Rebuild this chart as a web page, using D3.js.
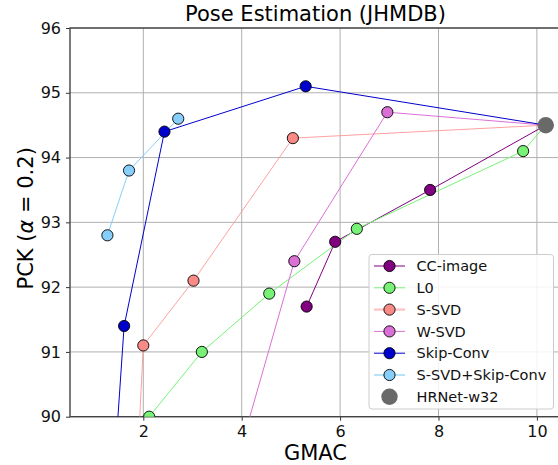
<!DOCTYPE html>
<html>
<head>
<meta charset="utf-8">
<script src="https://cdn.jsdelivr.net/npm/d3@7/dist/d3.min.js"></script>
<style>
  html, body { margin: 0; padding: 0; background: #fff; }
  svg { display: block; font-family: "DejaVu Sans", sans-serif; }
</style>
</head>
<body>
<svg id="chart" width="558" height="465"></svg>
<script>
// ---- data ----
const seriesNames = ["CC-image", "L0", "S-SVD", "W-SVD", "Skip-Conv", "S-SVD+Skip-Conv"];
const ccX = [5.32, 5.90, 7.83];
const ccY = [91.7, 92.7, 93.5];
const l0X = [2.12, 3.19, 4.56, 6.34, 9.72];
const l0Y = [90.0, 91.0, 91.9, 92.9, 94.1];
const ssvdX = [1.85, 2.00, 3.02, 5.04];
const ssvdY = [88.8, 91.1, 92.1, 94.3];
const wsvdX = [3.60, 5.07, 6.96];
const wsvdY = [88.5, 92.4, 94.7];
const skipX = [1.35, 1.61, 2.43, 5.30];
const skipY = [88.5, 91.4, 94.4, 95.1];
const comboX = [1.27, 1.71, 2.71];
const comboY = [92.8, 93.8, 94.6];
const connectsToBase = [true, true, true, true, true, false];
const baseName = "HRNet-w32";
const baseX = 10.18;
const baseY = 94.5;
const xTicks = [2, 4, 6, 8, 10];
const yTicks = [90, 91, 92, 93, 94, 95, 96];

// ---- styles ----
const seriesX = [ccX, l0X, ssvdX, wsvdX, skipX, comboX];
const seriesY = [ccY, l0Y, ssvdY, wsvdY, skipY, comboY];
const fills = ["#800080", "#77f277", "#fa8a86", "#da70d6", "#0000cd", "#87cefa"];
const lineColors = ["#800080", "#77f277", "#ff9090", "#da70d6", "#0000cd", "#87cefa"];
const lineOpacity = [1, 1, 0.85, 1, 1, 1];
const legendLineW = [1, 1, 2.5, 1, 1, 2];
const legendLineOp = [1, 1, 0.5, 1, 1, 0.6];

const svg = d3.select("#chart");
const L = 70, R = 561, T = 28, B = 416.7;
const x = d3.scaleLinear().domain([0.51, 10.49]).range([L, R]);
const y = d3.scaleLinear().domain([90, 96]).range([B, T]);

svg.append("defs").append("clipPath").attr("id", "clip")
  .append("rect").attr("x", L).attr("y", T).attr("width", R - L).attr("height", B - T);

// grid
const grid = svg.append("g");
grid.selectAll(".gx").data(xTicks).enter().append("line")
  .attr("x1", d => x(d)).attr("x2", d => x(d)).attr("y1", T).attr("y2", B)
  .attr("stroke", "#b0b0b0").attr("stroke-width", 1);
grid.selectAll(".gy").data(yTicks).enter().append("line")
  .attr("x1", L).attr("x2", R).attr("y1", d => y(d)).attr("y2", d => y(d))
  .attr("stroke", "#b0b0b0").attr("stroke-width", 1);

// axes
const xAxis = svg.append("g").attr("transform", `translate(0,${B})`)
  .call(d3.axisBottom(x).tickValues(xTicks).tickFormat(d3.format("d")).tickSize(4).tickPadding(5).tickSizeOuter(0));
const yAxis = svg.append("g").attr("transform", `translate(${L},0)`)
  .call(d3.axisLeft(y).tickValues(yTicks).tickFormat(d3.format("d")).tickSize(4).tickPadding(5).tickSizeOuter(0));
[xAxis, yAxis].forEach(a => {
  a.select(".domain").remove();
  a.selectAll("line").attr("stroke", "#333").attr("stroke-width", 1);
  a.selectAll("text").attr("font-size", 16).attr("fill", "#111")
    .attr("font-family", "DejaVu Sans, sans-serif");
});

// spines
svg.append("rect").attr("x", L).attr("y", T).attr("width", R - L).attr("height", B - T)
  .attr("fill", "none").attr("stroke", "#444").attr("stroke-width", 1.4);

// data
const plot = svg.append("g").attr("clip-path", "url(#clip)");
const line = d3.line().x(d => x(d[0])).y(d => y(d[1]));
seriesNames.forEach((name, i) => {
  const pts = seriesX[i].map((v, j) => [v, seriesY[i][j]]);
  const linePts = connectsToBase[i] ? pts.concat([[baseX, baseY]]) : pts;
  plot.append("path").datum(linePts).attr("d", line)
    .attr("fill", "none").attr("stroke", lineColors[i]).attr("stroke-width", 1)
    .attr("stroke-opacity", lineOpacity[i]);
});
seriesNames.forEach((name, i) => {
  const pts = seriesX[i].map((v, j) => [v, seriesY[i][j]]);
  plot.selectAll(null).data(pts).enter().append("circle")
    .attr("cx", d => x(d[0])).attr("cy", d => y(d[1])).attr("r", 5.6)
    .attr("fill", fills[i]).attr("stroke", "#000").attr("stroke-width", 0.9);
});
plot.append("circle").attr("cx", x(baseX)).attr("cy", y(baseY)).attr("r", 8.2)
  .attr("fill", "#696969");

// title and labels
svg.append("text").attr("x", (L + R) / 2).attr("y", 21).attr("text-anchor", "middle")
  .attr("font-size", 21).attr("fill", "#000").text("Pose Estimation (JHMDB)");
svg.append("text").attr("x", (L + R) / 2).attr("y", 460).attr("text-anchor", "middle")
  .attr("font-size", 21).attr("fill", "#000").text("GMAC");
const yl = svg.append("text").attr("transform", `translate(33,${(T + B) / 2 - 4}) rotate(-90)`)
  .attr("text-anchor", "middle").attr("font-size", 21).attr("fill", "#000");
yl.append("tspan").text("PCK (");
yl.append("tspan").attr("font-style", "italic").text("α");
yl.append("tspan").text(" = 0.2)");

// legend
const lg = svg.append("g");
lg.append("rect").attr("x", 369).attr("y", 254.5).attr("width", 184.5).attr("height", 154.5)
  .attr("rx", 3).attr("fill", "#fff").attr("fill-opacity", 0.85)
  .attr("stroke", "#cccccc").attr("stroke-width", 1);
const legendNames = seriesNames.concat([baseName]);
legendNames.forEach((name, i) => {
  const cy = 266 + i * 21.8;
  const g = lg.append("g");
  if (i < seriesNames.length) {
    g.append("line").attr("x1", 374).attr("x2", 405).attr("y1", cy).attr("y2", cy)
      .attr("stroke", lineColors[i]).attr("stroke-width", legendLineW[i])
      .attr("stroke-opacity", legendLineOp[i]);
    g.append("circle").attr("cx", 389.5).attr("cy", cy).attr("r", 5.6)
      .attr("fill", fills[i]).attr("stroke", "#000").attr("stroke-width", 0.9);
  } else {
    g.append("circle").attr("cx", 389.5).attr("cy", cy).attr("r", 8.2).attr("fill", "#696969");
  }
  g.append("text").attr("x", 416.5).attr("y", cy + 5.2).attr("font-size", 14.5)
    .attr("fill", "#111").text(name);
});
</script>
</body>
</html>
